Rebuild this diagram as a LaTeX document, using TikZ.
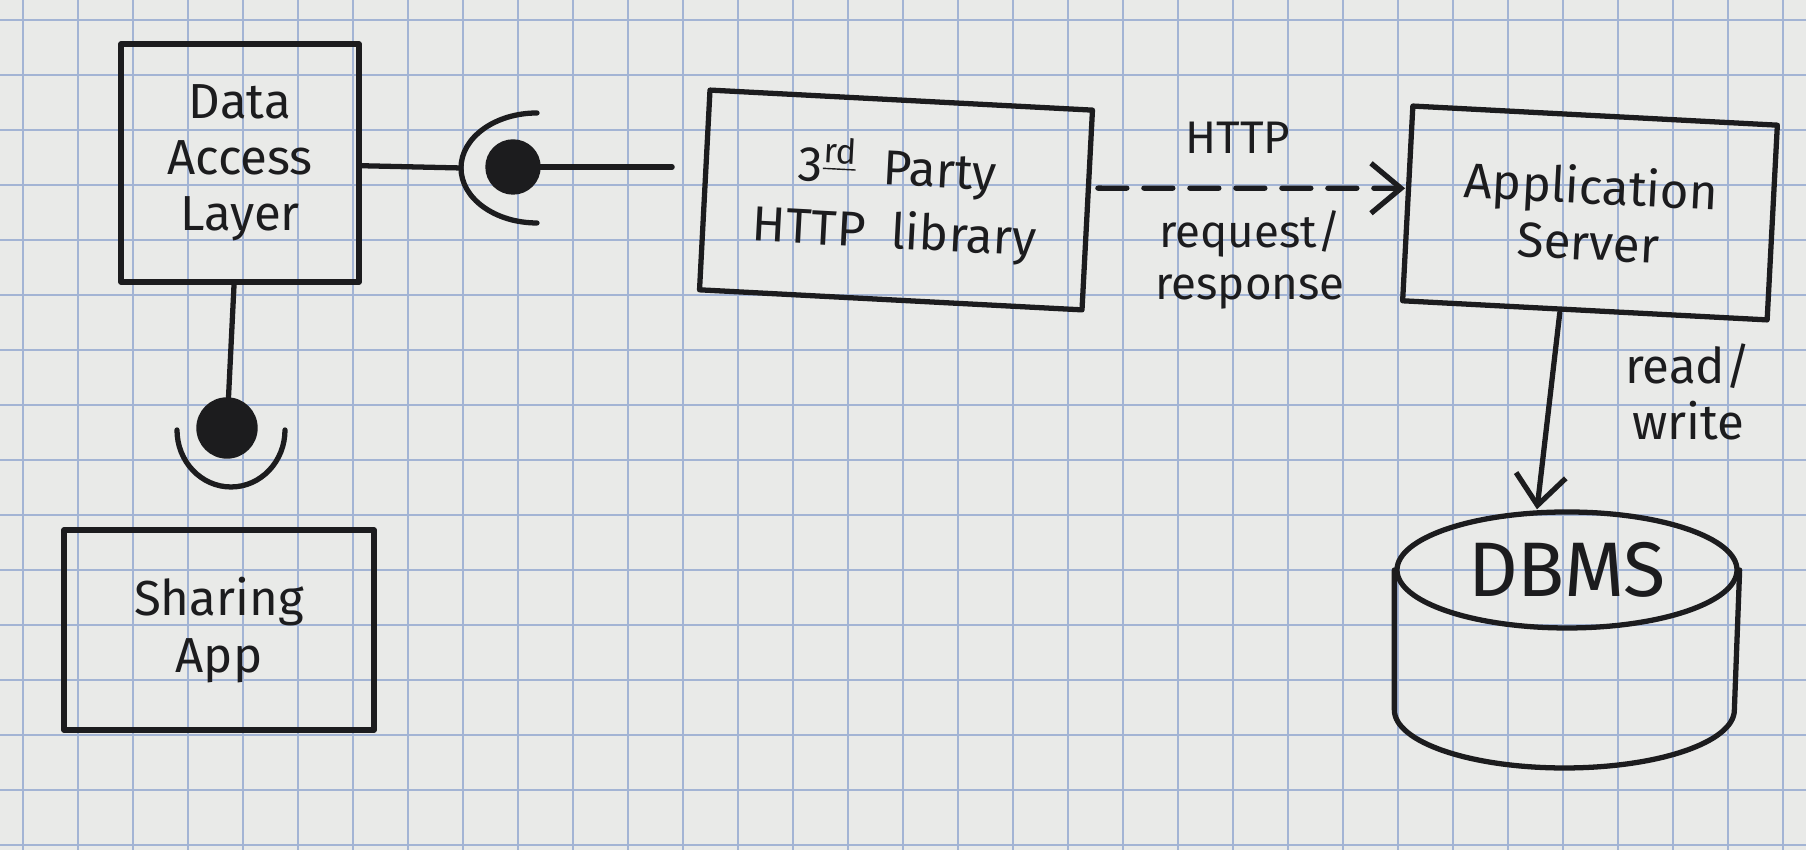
\documentclass[tikz,border=0pt]{standalone}
\usepackage{fontspec}
\setmainfont{Fira Sans}
\usetikzlibrary{arrows.meta,shapes.geometric}
\definecolor{paper}{HTML}{E9EAE8}
\definecolor{gridblue}{HTML}{A3B4D4}
\definecolor{ink}{HTML}{1C1C1E}
\newcommand\handfont{\fontsize{14}{16}\selectfont}
\newcommand\dbmsfont{\fontsize{22}{24}\selectfont}
\newcommand\lblfont{\fontsize{13}{15}\selectfont}
\begin{document}
\begin{tikzpicture}[
  inkline/.style={draw=ink, line width=1.5pt, line cap=round, line join=round},
  box/.style={inkline, rectangle, align=center, text=ink, font=\handfont, inner sep=0pt},
  lbl/.style={text=ink, align=center, font=\lblfont, inner sep=1pt},
  ball/.style={circle, fill=ink, draw=ink, inner sep=0pt},
  tip/.style={-{Straight Barb[length=0.3cm,width=0.5cm,line width=1.5pt]}},
]
\fill[paper] (0,0) rectangle (18.06,8.5);
\useasboundingbox (0,0) rectangle (18.06,8.5);
\foreach \i in {0,...,32} \draw[gridblue, line width=0.6pt] ({0.23+0.55*\i},0) -- ({0.23+0.55*\i},8.5);
\foreach \j in {0,...,15} \draw[gridblue, line width=0.6pt] (0,{8.3-0.55*\j}) -- (18.06,{8.3-0.55*\j});

% boxes
\node[box, minimum width=2.38cm, minimum height=2.38cm] (dal) at (2.40,6.87) {Data\\Access\\Layer};
\node[box, minimum width=3.83cm, minimum height=2.0cm, rotate=-3] (lib) at (8.96,6.50) {3\textsuperscript{\underline{rd}}\ \ Party\\[2pt]HTTP\ \ library};
\node[box, minimum width=3.65cm, minimum height=1.95cm, rotate=-3] (app) at (15.9,6.37) {Application\\Server};
\node[box, minimum width=3.1cm, minimum height=2.0cm] (share) at (2.19,2.2) {Sharing\\App};

% DBMS cylinder
\node[ellipse, inkline, text=ink, minimum width=3.4cm, minimum height=1.16cm, font=\dbmsfont, inner sep=0pt] (dbms) at (15.67,2.80) {DBMS};
\draw[inkline] (dbms.west) -- ++(0,-1.4) arc[start angle=180, end angle=360, x radius=1.7cm, y radius=0.58cm] -- (dbms.east);

% ball and socket between DAL and library
\node[ball, minimum size=0.54cm] (ball1) at (5.13,6.83) {};
\coordinate (sock1) at (4.61,6.82);
\draw[inkline] (5.37,7.37) arc[start angle=90, end angle=270, x radius=0.76cm, y radius=0.55cm];
\draw[inkline] (dal) -- (sock1);
\draw[inkline] (ball1.east) -- ([xshift=-0.3cm]ball1.east -| lib.west);

% ball and socket between DAL and Sharing App
\node[ball, minimum size=0.6cm] (ball2) at (2.27,4.22) {};
\draw[inkline] (1.77,4.2) arc[start angle=180, end angle=360, x radius=0.54cm, y radius=0.57cm];
\draw[inkline] (dal) -- (ball2);

% HTTP
\draw[inkline, dash pattern=on 0.29cm off 0.17cm, tip] ([xshift=0.08cm,yshift=0.22cm]lib.east) -- ([yshift=0.15cm]app.west);
\node[lbl] (httplbl) at (12.38,7.12) {HTTP};
\node[lbl] (reqlbl) at (12.5,5.9) {request/\\response};

% read/write
\draw[inkline, tip] ([xshift=-0.25cm]app.south) -- ([xshift=-0.3cm]dbms.north);
\node[lbl, font=\handfont] (rwlbl) at (16.88,4.58) {read/\\write};
\end{tikzpicture}
\end{document}
